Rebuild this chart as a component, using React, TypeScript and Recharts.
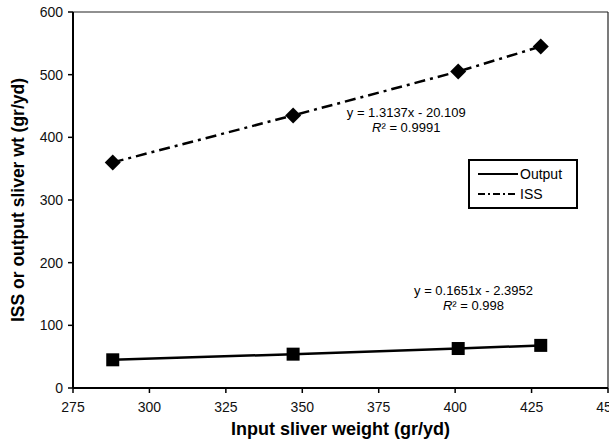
import React from 'react';
import {
  ComposedChart,
  Line,
  XAxis,
  YAxis,
  ReferenceLine,
  ReferenceDot,
  Legend,
  Label,
} from 'recharts';

const inputWeights = [288, 347, 401, 428];
const outputValues = [45, 54, 63, 68];
const issValues = [360, 435, 505, 545];
const xTicks = [275, 300, 325, 350, 375, 400, 425, 450];
const yTicks = [0, 100, 200, 300, 400, 500, 600];
const seriesOrder = ['Output', 'ISS'];

const issEquation = { x: 384, y: 428, line1: 'y = 1.3137x - 20.109', r2: '0.9991' };
const outputEquation = { x: 406, y: 143, line1: 'y = 0.1651x - 2.3952', r2: '0.998' };

const data = inputWeights.map((w, i) => ({ x: w, output: outputValues[i], iss: issValues[i] }));

const FONT = 'Arial, "Liberation Sans", Helvetica, sans-serif';

const SquareDot = (props: any) => {
  const { cx, cy } = props;
  if (cx == null || cy == null) return null;
  const s = 13;
  return <rect x={cx - s / 2} y={cy - s / 2} width={s} height={s} fill="#000" />;
};

const DiamondDot = (props: any) => {
  const { cx, cy } = props;
  if (cx == null || cy == null) return null;
  const r = 8;
  return (
    <path
      d={`M${cx},${cy - r} L${cx + r},${cy} L${cx},${cy + r} L${cx - r},${cy} Z`}
      fill="#000"
    />
  );
};

const eqLabel = (eq: { line1: string; r2: string }) => (props: any) => {
  const vb = props.viewBox || {};
  const cx = vb.cx != null ? vb.cx : vb.x + (vb.width || 0) / 2;
  const cy = vb.cy != null ? vb.cy : vb.y + (vb.height || 0) / 2;
  return (
    <g fontFamily={FONT} fontSize={13} fill="#000">
      <text x={cx} y={cy - 3} textAnchor="middle">
        {eq.line1}
      </text>
      <text x={cx} y={cy + 12} textAnchor="middle">
        <tspan fontStyle="italic">R</tspan>
        <tspan>² = {eq.r2}</tspan>
      </text>
    </g>
  );
};

const renderLegend = (props: any) => {
  const payload = [...(props.payload || [])].sort(
    (a: any, b: any) => seriesOrder.indexOf(a.value) - seriesOrder.indexOf(b.value)
  );
  return (
    <div
      style={{
        boxSizing: 'border-box',
        width: 110,
        height: 50,
        border: '2px solid #000',
        background: '#fff',
        padding: '3px 0 0 8px',
        fontFamily: FONT,
        fontSize: 14,
        color: '#000',
      }}
    >
      {payload.map((p: any) => (
        <div key={p.value} style={{ display: 'flex', alignItems: 'center', height: 20 }}>
          <svg width={40} height={20}>
            <line
              x1={0}
              y1={10}
              x2={40}
              y2={10}
              stroke="#000"
              strokeWidth={2}
              strokeDasharray={p.value === 'ISS' ? '7 3 2 3' : undefined}
            />
          </svg>
          <span style={{ marginLeft: 2 }}>{p.value}</span>
        </div>
      ))}
    </div>
  );
};

const YTitle = (props: any) => {
  const vb = props.viewBox || {};
  const x = vb.x + 18;
  const y = vb.y + vb.height / 2;
  return (
    <text
      x={x}
      y={y}
      transform={`rotate(-90, ${x}, ${y})`}
      textAnchor="middle"
      dominantBaseline="central"
      fontFamily={FONT}
      fontWeight="bold"
      fontSize={17.5}
      fill="#000"
    >
      ISS or output sliver wt (gr/yd)
    </text>
  );
};

export default function App() {
  return (
    <div style={{ position: 'absolute', left: 0, top: 0, width: 609, height: 444, background: '#fff' }}>
      <ComposedChart
        width={609}
        height={444}
        data={data}
        margin={{ top: 12, right: 1, left: 0, bottom: 0 }}
      >
        <XAxis
          dataKey="x"
          type="number"
          domain={[275, 450]}
          ticks={xTicks}
          allowDataOverflow
          height={56}
          axisLine={{ stroke: '#000', strokeWidth: 2 }}
          tickLine={{ stroke: '#000', strokeWidth: 1.5 }}
          tickSize={5}
          tickMargin={9}
          tick={{ fontFamily: FONT, fontSize: 14, fill: '#111' }}
          interval={0}
        >
          <Label
            value="Input sliver weight (gr/yd)"
            position="insideBottom"
            offset={9}
            style={{ fontFamily: FONT, fontWeight: 'bold', fontSize: 18, fill: '#000' }}
          />
        </XAxis>
        <YAxis
          type="number"
          domain={[0, 600]}
          ticks={yTicks}
          width={73}
          axisLine={{ stroke: '#000', strokeWidth: 2 }}
          tickLine={{ stroke: '#000', strokeWidth: 1.5 }}
          tickSize={5}
          tickMargin={5}
          tick={{ fontFamily: FONT, fontSize: 14, fill: '#111' }}
          interval={0}
        >
          <Label content={<YTitle />} />
        </YAxis>
        <ReferenceLine y={600} stroke="#222" strokeWidth={1.2} />
        <ReferenceLine x={450} stroke="#222" strokeWidth={1.2} />
        <Line
          dataKey="output"
          name="Output"
          stroke="#000"
          strokeWidth={2.5}
          dot={<SquareDot />}
          activeDot={false}
          isAnimationActive={false}
        />
        <Line
          dataKey="iss"
          name="ISS"
          stroke="#000"
          strokeWidth={2.5}
          strokeDasharray="11 5 3 5"
          dot={<DiamondDot />}
          activeDot={false}
          isAnimationActive={false}
        />
        <ReferenceDot
          x={issEquation.x}
          y={issEquation.y}
          r={0}
          fill="none"
          stroke="none"
          label={eqLabel(issEquation)}
        />
        <ReferenceDot
          x={outputEquation.x}
          y={outputEquation.y}
          r={0}
          fill="none"
          stroke="none"
          label={eqLabel(outputEquation)}
        />
        <Legend
          content={renderLegend}
          layout="horizontal"
          verticalAlign="middle"
          align="center"
          wrapperStyle={{ position: 'absolute', left: 468, top: 159, width: 110, height: 50 }}
        />
      </ComposedChart>
    </div>
  );
}
